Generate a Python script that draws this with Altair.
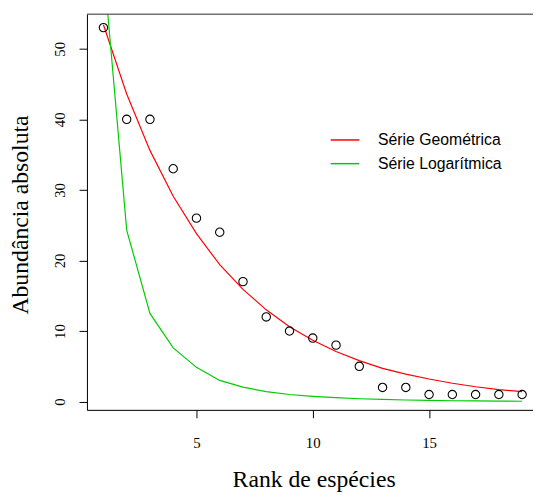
import altair as alt
import pandas as pd

# Data
rank = list(range(1, 20))
observed = [53, 40, 40, 33, 26, 24, 17, 12, 10, 9, 8, 5, 2, 2, 1, 1, 1, 1, 1]
geometric = [53.4, 43.6, 35.6, 29.1, 23.8, 19.4, 15.9, 13.0, 10.6, 8.7,
             7.1, 5.8, 4.7, 3.9, 3.2, 2.6, 2.1, 1.7, 1.4]
logseries = [62.0, 24.3, 12.5, 7.6, 4.85, 3.0, 2.05, 1.4, 1.0, 0.75,
             0.55, 0.4, 0.3, 0.22, 0.16, 0.12, 0.09, 0.07, 0.05]
series_names = ["Série Geométrica", "Série Logarítmica"]
series_colors = ["#FF0000", "#00CC00"]
x_ticks = [5, 10, 15]
y_ticks = [0, 10, 20, 30, 40, 50]

x_domain = [0.2915, 19.468]
y_domain = [-1.175, 54.91]

pts = pd.DataFrame({"rank": rank, "abund": observed})
lines = pd.DataFrame({
    "rank": rank + rank,
    "abund": geometric + logseries,
    "serie": [series_names[0]] * len(rank) + [series_names[1]] * len(rank),
})
frame = pd.DataFrame({"edge": ["top"]})

xs = alt.Scale(domain=x_domain, nice=False, zero=False)
ys = alt.Scale(domain=y_domain, nice=False, zero=False)

x_axis = alt.Axis(
    values=x_ticks, grid=False, domainColor="black", tickColor="black",
    tickSize=8, labelFont="Liberation Serif", labelFontSize=15, labelColor="black",
    labelBaseline="alphabetic", labelPadding=30,
    title="Rank de espécies", titleFont="Liberation Serif", titleFontSize=24,
    titleFontWeight="normal", titleColor="black", titleBaseline="alphabetic",
    titleAlign="center", titleX=229.7, titleY=78,
)
y_axis = alt.Axis(
    values=y_ticks, grid=False, domainColor="black", tickColor="black",
    tickSize=8, labelFont="Liberation Serif", labelFontSize=15, labelColor="black",
    labelAngle=-90, labelAlign="center", labelBaseline="alphabetic", labelPadding=15,
    title="Abundância absoluta", titleFont="Liberation Serif", titleFontSize=24,
    titleFontWeight="normal", titleColor="black", titleBaseline="alphabetic",
    titleAlign="center", titleAngle=-90, titleX=-60, titleY=203,
)

line_layer = alt.Chart(lines).mark_line(clip=True, strokeWidth=1.2).encode(
    x=alt.X("rank:Q", scale=xs, axis=x_axis),
    y=alt.Y("abund:Q", scale=ys, axis=y_axis),
    color=alt.Color(
        "serie:N",
        scale=alt.Scale(domain=series_names, range=series_colors),
        legend=alt.Legend(
            title=None, orient="none", legendX=246, legendY=112,
            symbolType="stroke", symbolSize=841, symbolStrokeWidth=1.5,
            labelFont="Liberation Sans", labelFontSize=16, labelColor="black",
            labelOffset=18, rowPadding=-4, padding=0,
        ),
    ),
)

point_layer = alt.Chart(pts).mark_point(
    shape="circle", filled=False, size=72, strokeWidth=1.1, color="black", opacity=1
).encode(
    x=alt.X("rank:Q", scale=xs),
    y=alt.Y("abund:Q", scale=ys),
)

top_rule = alt.Chart(frame).mark_rule(color="#333333", strokeWidth=1).encode(
    y=alt.value(0)
)

chart = alt.layer(line_layer, point_layer, top_rule).properties(
    width=452, height=401,
    autosize=alt.AutoSizeParams(type="none"),
    padding={"left": 80, "top": 3, "right": 0, "bottom": 80},
).configure_view(stroke=None).configure(background="white")

chart.save("out.html", embed_options={"renderer": "svg", "actions": False})
